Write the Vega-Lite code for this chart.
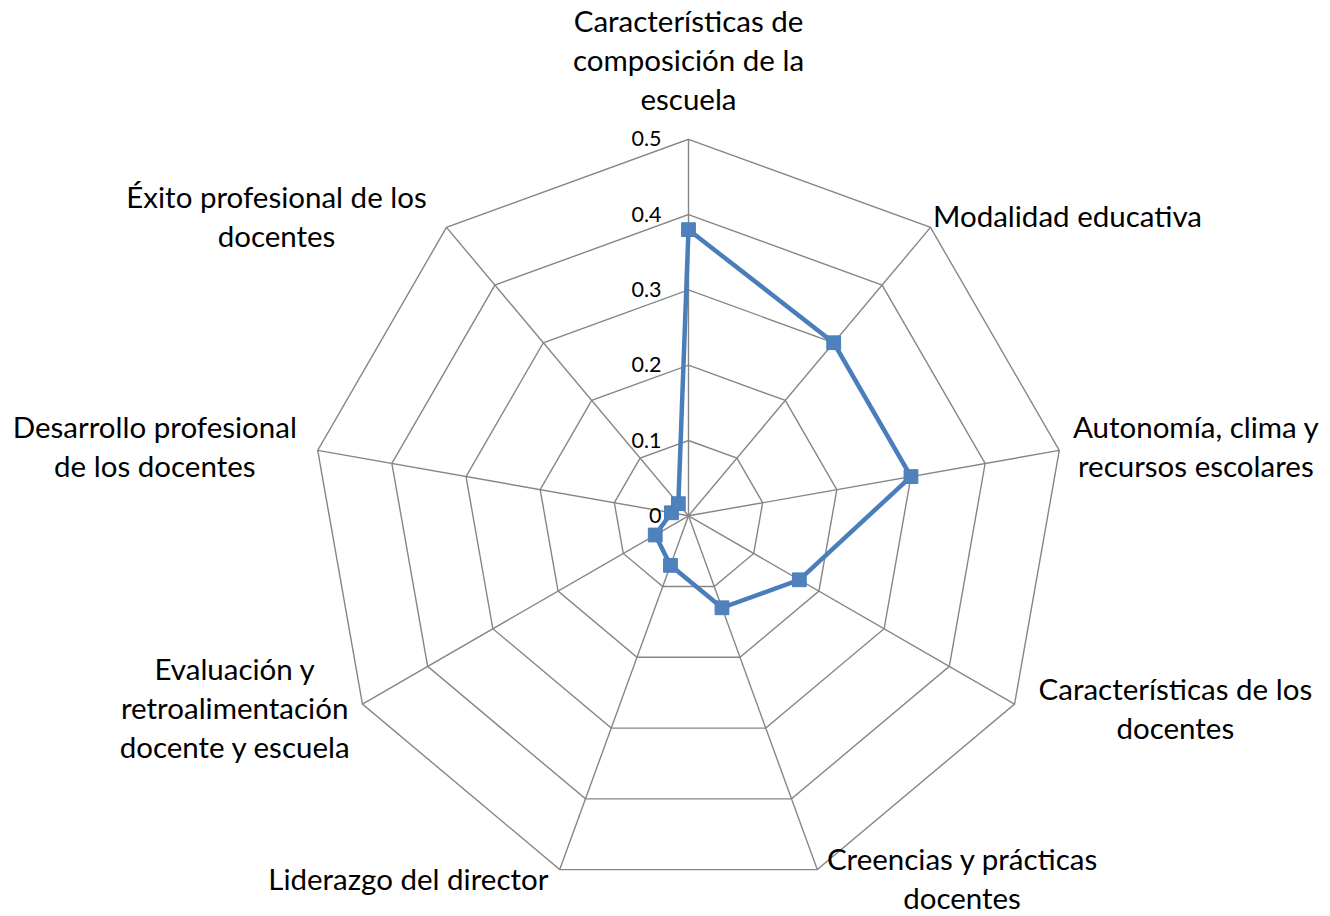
{
  "$schema": "https://vega.github.io/schema/vega-lite/v6.json",
  "width": 1330,
  "height": 916,
  "padding": 0,
  "autosize": {"type": "none"},
  "background": "white",
  "config": {"view": {"stroke": null}},
  "datasets": {
    "cats": [
      {"idx": 0, "label": "Características de\ncomposición de la\nescuela", "value": 0.38},
      {"idx": 1, "label": "Modalidad educativa", "value": 0.30},
      {"idx": 2, "label": "Autonomía, clima y\nrecursos escolares", "value": 0.30},
      {"idx": 3, "label": "Características de los\ndocentes", "value": 0.17},
      {"idx": 4, "label": "Creencias y prácticas\ndocentes", "value": 0.13},
      {"idx": 5, "label": "Liderazgo del director", "value": 0.07},
      {"idx": 6, "label": "Evaluación y\nretroalimentación\ndocente y escuela", "value": 0.051},
      {"idx": 7, "label": "Desarrollo profesional\nde los docentes", "value": 0.023},
      {"idx": 8, "label": "Éxito profesional de los\ndocentes", "value": 0.021}
    ],
    "levels": [
      {"level": 0, "idx": []},
      {"level": 0.1, "idx": [0, 1, 2, 3, 4, 5, 6, 7, 8]},
      {"level": 0.2, "idx": [0, 1, 2, 3, 4, 5, 6, 7, 8]},
      {"level": 0.3, "idx": [0, 1, 2, 3, 4, 5, 6, 7, 8]},
      {"level": 0.4, "idx": [0, 1, 2, 3, 4, 5, 6, 7, 8]},
      {"level": 0.5, "idx": [0, 1, 2, 3, 4, 5, 6, 7, 8]}
    ]
  },
  "layer": [
    {
      "data": {"name": "levels"},
      "transform": [
        {"flatten": ["idx"]},
        {"filter": "datum.level > 0"},
        {"calculate": "datum.idx * 2 * PI / 9", "as": "a"},
        {"calculate": "datum.level * sin(datum.a)", "as": "gx"},
        {"calculate": "datum.level * cos(datum.a)", "as": "gy"}
      ],
      "mark": {"type": "line", "interpolate": "linear-closed", "stroke": "#868686", "strokeWidth": 1.4},
      "encoding": {
        "x": {"field": "gx", "type": "quantitative", "scale": {"domain": [-0.91434, 0.85193], "nice": false, "zero": false}, "axis": null},
        "y": {"field": "gy", "type": "quantitative", "scale": {"domain": [-0.53147, 0.68499], "nice": false, "zero": false}, "axis": null},
        "detail": {"field": "level", "type": "nominal"},
        "order": {"field": "idx", "type": "quantitative"}
      }
    },
    {
      "data": {"name": "cats"},
      "transform": [
        {"calculate": "datum.idx * 2 * PI / 9", "as": "a"},
        {"calculate": "0", "as": "ox"},
        {"calculate": "0", "as": "oy"},
        {"calculate": "0.5 * sin(datum.a)", "as": "ex"},
        {"calculate": "0.5 * cos(datum.a)", "as": "ey"}
      ],
      "mark": {"type": "rule", "stroke": "#868686", "strokeWidth": 1.4},
      "encoding": {
        "x": {"field": "ox", "type": "quantitative", "scale": {"domain": [-0.91434, 0.85193], "nice": false, "zero": false}, "axis": null},
        "y": {"field": "oy", "type": "quantitative", "scale": {"domain": [-0.53147, 0.68499], "nice": false, "zero": false}, "axis": null},
        "x2": {"field": "ex"},
        "y2": {"field": "ey"}
      }
    },
    {
      "data": {"name": "cats"},
      "transform": [
        {"calculate": "datum.idx * 2 * PI / 9", "as": "a"},
        {"calculate": "datum.value * sin(datum.a)", "as": "px"},
        {"calculate": "datum.value * cos(datum.a)", "as": "py"}
      ],
      "mark": {"type": "line", "interpolate": "linear-closed", "stroke": "#4a7ebb", "strokeWidth": 4.5},
      "encoding": {
        "x": {"field": "px", "type": "quantitative", "scale": {"domain": [-0.91434, 0.85193], "nice": false, "zero": false}, "axis": null},
        "y": {"field": "py", "type": "quantitative", "scale": {"domain": [-0.53147, 0.68499], "nice": false, "zero": false}, "axis": null},
        "order": {"field": "idx", "type": "quantitative"}
      }
    },
    {
      "data": {"name": "cats"},
      "transform": [
        {"calculate": "datum.idx * 2 * PI / 9", "as": "a"},
        {"calculate": "datum.value * sin(datum.a)", "as": "px"},
        {"calculate": "datum.value * cos(datum.a)", "as": "py"}
      ],
      "mark": {"type": "point", "shape": "square", "filled": true, "size": 190, "fill": "#4f81bd", "stroke": "#4a7ebb", "strokeWidth": 1, "opacity": 1},
      "encoding": {
        "x": {"field": "px", "type": "quantitative", "scale": {"domain": [-0.91434, 0.85193], "nice": false, "zero": false}, "axis": null},
        "y": {"field": "py", "type": "quantitative", "scale": {"domain": [-0.53147, 0.68499], "nice": false, "zero": false}, "axis": null}
      }
    },
    {
      "data": {"name": "levels"},
      "transform": [
        {"calculate": "0", "as": "ox"}
      ],
      "mark": {"type": "text", "align": "right", "baseline": "middle", "dx": -27, "dy": 1, "font": "Lato", "fontSize": 21.5, "color": "#000000"},
      "encoding": {
        "x": {"field": "ox", "type": "quantitative", "scale": {"domain": [-0.91434, 0.85193], "nice": false, "zero": false}, "axis": null},
        "y": {"field": "level", "type": "quantitative", "scale": {"domain": [-0.53147, 0.68499], "nice": false, "zero": false}, "axis": null},
        "text": {"field": "level", "type": "quantitative", "format": "~g"}
      }
    },
    {
      "data": {"name": "cats"},
      "transform": [
        {"calculate": "datum.idx * 2 * PI / 9", "as": "a"},
        {"calculate": "split(datum.label, '\\n')", "as": "lines"},
        {"calculate": "max(length(datum.lines[0]), length(datum.lines[1] || ''), length(datum.lines[2] || ''))", "as": "maxlen"},
        {"calculate": "datum.maxlen * 6.6 / 753", "as": "hw"},
        {"calculate": "0.5239 * sin(datum.a)", "as": "ax"},
        {"calculate": "abs(sin(datum.a)) < 0.1 ? 0.5239 * cos(datum.a) : 0.51594 * cos(datum.a)", "as": "ay"},
        {"calculate": "abs(sin(datum.a)) < 0.1 ? datum.ax : datum.ax + (sin(datum.a) > 0 ? 1 : -1) * datum.hw", "as": "lx"},
        {"calculate": "abs(sin(datum.a)) < 0.1 ? datum.ay + (20 + (length(datum.lines) - 1) * 39) / 753 : datum.ay + (length(datum.lines) - 1) * 19.5 / 753", "as": "ly"}
      ],
      "mark": {"type": "text", "align": "center", "baseline": "middle", "lineBreak": "\n", "lineHeight": 39, "font": "Lato", "fontSize": 29.5, "color": "#000000"},
      "encoding": {
        "x": {"field": "lx", "type": "quantitative", "scale": {"domain": [-0.91434, 0.85193], "nice": false, "zero": false}, "axis": null},
        "y": {"field": "ly", "type": "quantitative", "scale": {"domain": [-0.53147, 0.68499], "nice": false, "zero": false}, "axis": null},
        "text": {"field": "label", "type": "nominal"}
      }
    }
  ]
}
